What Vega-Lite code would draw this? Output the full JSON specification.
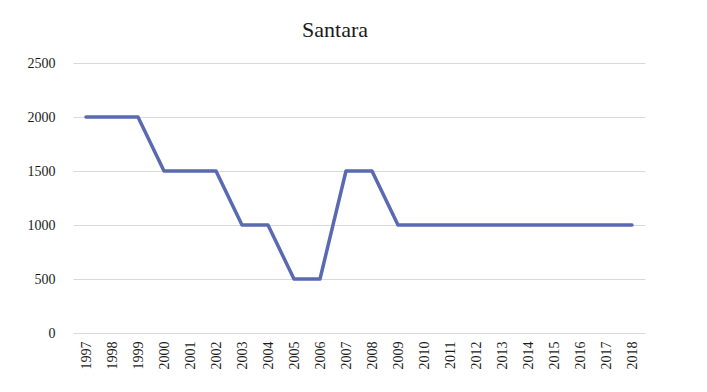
{
  "$schema": "https://vega.github.io/schema/vega-lite/v6.json",
  "autosize": "none",
  "width": 572,
  "height": 270,
  "padding": {"left": 73, "top": 63, "right": 62, "bottom": 59},
  "background": "white",
  "title": {"text": "Santara", "font": "Liberation Serif", "fontSize": 22, "fontWeight": "normal", "color": "#1a1a1a", "anchor": "middle", "offset": 14, "dx": -24},
  "data": {"values": [
    {"year": "1997", "value": 2000}, {"year": "1998", "value": 2000}, {"year": "1999", "value": 2000},
    {"year": "2000", "value": 1500}, {"year": "2001", "value": 1500}, {"year": "2002", "value": 1500},
    {"year": "2003", "value": 1000}, {"year": "2004", "value": 1000}, {"year": "2005", "value": 500},
    {"year": "2006", "value": 500}, {"year": "2007", "value": 1500}, {"year": "2008", "value": 1500},
    {"year": "2009", "value": 1000}, {"year": "2010", "value": 1000}, {"year": "2011", "value": 1000},
    {"year": "2012", "value": 1000}, {"year": "2013", "value": 1000}, {"year": "2014", "value": 1000},
    {"year": "2015", "value": 1000}, {"year": "2016", "value": 1000}, {"year": "2017", "value": 1000},
    {"year": "2018", "value": 1000}
  ]},
  "mark": {"type": "line", "color": "#5A6AB2", "strokeWidth": 3.5, "strokeCap": "round", "strokeJoin": "round"},
  "encoding": {
    "x": {"field": "year", "type": "ordinal", "scale": {"type": "point", "padding": 0.5},
      "axis": {"title": null, "labelAngle": -90, "labelFont": "Liberation Serif", "labelFontSize": 14, "labelColor": "#1a1a1a", "ticks": false, "domainColor": "#d9d9d9", "domainWidth": 1, "labelPadding": 8, "grid": false}},
    "y": {"field": "value", "type": "quantitative", "scale": {"domain": [0, 2500]},
      "axis": {"title": null, "values": [0, 500, 1000, 1500, 2000, 2500], "format": "d", "labelFont": "Liberation Serif", "labelFontSize": 14, "labelColor": "#1a1a1a", "ticks": false, "domain": false, "gridColor": "#d9d9d9", "gridWidth": 1, "labelPadding": 18}}
  },
  "config": {"view": {"stroke": null}}
}
